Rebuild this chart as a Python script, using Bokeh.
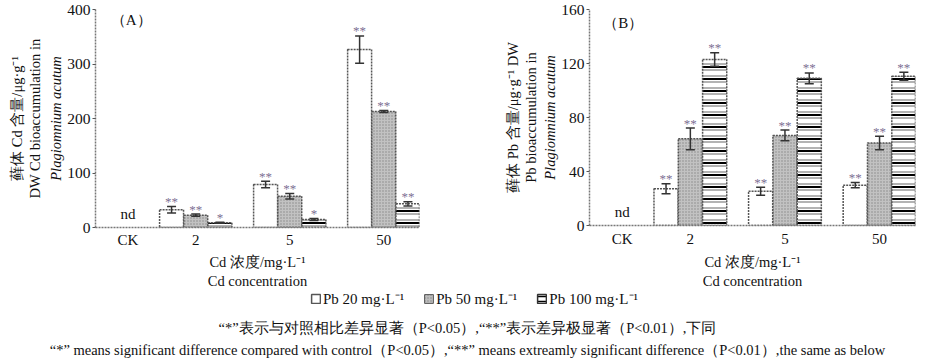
from bokeh.plotting import figure
from bokeh.models import (ColumnDataSource, FixedTicker, LinearAxis, Range1d, Whisker,
                          TeeHead, Label, Legend, LegendItem)
from bokeh.layouts import row, column
from bokeh.embed import file_html
from bokeh.resources import INLINE
from bokeh.core.properties import value

# ---------------- data ----------------
categories = ["CK", "2", "5", "50"]
cat_pos = [0.28, 1, 2, 3]
series = ["Pb 20 mg·L⁻¹", "Pb 50 mg·L⁻¹", "Pb 100 mg·L⁻¹"]

# Panel A: Cd bioaccumulation (groups 2, 5, 50)
cd_pb20 = [32.4, 78.9, 326.6]
cd_pb20_err = [6, 6, 25]
cd_pb50 = [22.6, 57.5, 212.8]
cd_pb50_err = [2, 5, 2]
cd_pb100 = [8.6, 14.7, 43.4]
cd_pb100_err = [1, 2, 4]
cd_sig20 = ["**", "**", "**"]
cd_sig50 = ["**", "**", "**"]
cd_sig100 = ["*", "*", "**"]
cd_ticks = [0, 100, 200, 300, 400]

# Panel B: Pb bioaccumulation
pb_pb20 = [27.2, 25.4, 29.9]
pb_pb20_err = [3.7, 3, 2]
pb_pb50 = [64.2, 66.7, 61.2]
pb_pb50_err = [8, 4, 5]
pb_pb100 = [123.0, 109.0, 110.6]
pb_pb100_err = [5, 4, 3]
pb_sig20 = ["**", "**", "**"]
pb_sig50 = ["**", "**", "**"]
pb_sig100 = ["**", "**", "**"]
pb_ticks = [0, 40, 80, 120, 160]

FONT = "Liberation Serif"
TXT = "#111111"
STAR = "#7d6f93"
EDGE = "#555555"
offsets = [-0.257, 0.0, 0.257]
BW = 0.255


def draw_bars(p, vals, errs, sigs, kind):
    xs = [cat_pos[i + 1] + offsets[kind] for i in range(len(vals))]
    src = ColumnDataSource(dict(x=xs, top=vals, upper=[v + e for v, e in zip(vals, errs)],
                                lower=[v - e for v, e in zip(vals, errs)], sig=sigs))
    if kind == 0:
        p.vbar(x="x", top="top", width=BW, source=src, fill_color="white",
               line_color=EDGE, line_width=1.5, line_dash="2 1")
    elif kind == 1:
        p.vbar(x="x", top="top", width=BW, source=src, fill_color="#c2c2c2",
               hatch_pattern="dot", hatch_color="#8a8a8a", hatch_scale=3, hatch_weight=1,
               line_color=EDGE, line_width=1.5, line_dash="2 1")
    else:
        p.vbar(x="x", top="top", width=BW, source=src, fill_color="white",
               hatch_pattern="horizontal_line", hatch_color="#9a9a9a", hatch_scale=6,
               hatch_weight=1.5, line_color=None)
        p.vbar(x="x", top="top", width=BW, source=src, fill_alpha=0,
               hatch_pattern="horizontal_line", hatch_color="black", hatch_scale=12,
               hatch_weight=2, line_color=EDGE, line_width=1.5, line_dash="2 1")
    w = Whisker(source=src, base="x", upper="upper", lower="lower", line_color="#333333",
                line_width=1.5, level="overlay",
                upper_head=TeeHead(size=9, line_color="#333333", line_width=1.5),
                lower_head=TeeHead(size=9, line_color="#333333", line_width=1.5))
    p.add_layout(w)
    p.text(x="x", y="upper", text="sig", source=src, text_align="center",
           text_baseline="middle", y_offset=-5, text_font_size="13px",
           text_color=STAR, text_font=value(FONT))


def make_panel(vals, errs, sigs, ymax, yticks, outer_label, tag, tag_xy,
               fw, fh, bl, br, bt, bb, x_std, xl_std, it_std, out_std):
    p = figure(frame_width=fw, frame_height=fh, x_range=Range1d(-0.066, 3.38),
               y_range=Range1d(0, ymax), output_backend="svg", toolbar_location=None,
               min_border_left=bl, min_border_right=br, min_border_top=bt,
               min_border_bottom=bb, outline_line_color=None)
    p.grid.visible = False
    for k in range(3):
        draw_bars(p, vals[k], errs[k], sigs[k], k)
    p.text(x=[cat_pos[0]], y=[0], text=["nd"], text_align="center", text_baseline="bottom",
           y_offset=-6, text_font_size="15px", text_color=TXT, text_font=value(FONT))
    p.add_layout(Label(x=tag_xy[0], y=tag_xy[1], text=tag, text_align="left",
                       text_baseline="middle", text_font=FONT, text_font_size="15px",
                       text_color=TXT))
    # x axis
    xa = p.xaxis[0]
    xa.ticker = FixedTicker(ticks=cat_pos)
    xa.major_label_overrides = {cat_pos[i]: categories[i] for i in range(4)}
    xa.major_tick_out = 0
    xa.major_tick_in = 0
    xa.minor_tick_out = 0
    xa.minor_tick_in = 0
    xa.axis_line_color = "#777777"
    xa.axis_line_width = 1.5
    xa.axis_line_dash = "2 1"
    xa.major_label_text_font = FONT
    xa.major_label_text_font_size = "15px"
    xa.major_label_text_color = TXT
    xa.major_label_standoff = x_std
    xa.axis_label = "Cd 浓度/mg·L⁻¹\nCd concentration"
    xa.axis_label_text_font = FONT
    xa.axis_label_text_font_size = "14.5px"
    xa.axis_label_text_font_style = "normal"
    xa.axis_label_text_color = TXT
    xa.axis_label_standoff = xl_std
    xa.axis_label_text_line_height = 1.22
    # y axis
    ya = p.yaxis[0]
    ya.ticker = FixedTicker(ticks=yticks)
    ya.major_tick_out = 3
    ya.major_tick_in = 0
    ya.minor_tick_out = 0
    ya.minor_tick_in = 0
    ya.major_tick_line_color = "#555555"
    ya.axis_line_color = "#777777"
    ya.axis_line_width = 1.5
    ya.axis_line_dash = "2 1"
    ya.major_label_text_font = FONT
    ya.major_label_text_font_size = "15.5px"
    ya.major_label_text_color = TXT
    ya.major_label_standoff = 2
    ya.axis_label = "Plagiomnium acutum"
    ya.axis_label_text_font = FONT
    ya.axis_label_text_font_size = "14.5px"
    ya.axis_label_text_font_style = "italic"
    ya.axis_label_text_color = TXT
    ya.axis_label_standoff = it_std
    outer = LinearAxis(ticker=FixedTicker(ticks=[]), axis_line_color=None,
                       major_tick_out=0, major_tick_in=0, minor_tick_out=0, minor_tick_in=0,
                       major_label_text_font_size="0px", major_label_standoff=0,
                       axis_label=outer_label, axis_label_text_font=FONT,
                       axis_label_text_font_size="14.5px", axis_label_text_font_style="normal",
                       axis_label_text_color=TXT, axis_label_standoff=out_std,
                       axis_label_text_line_height=1.12)
    p.add_layout(outer, "left")
    return p


pA = make_panel([cd_pb20, cd_pb50, cd_pb100], [cd_pb20_err, cd_pb50_err, cd_pb100_err],
                [cd_sig20, cd_sig50, cd_sig100], 400, cd_ticks,
                "藓体 Cd 含量/μg·g⁻¹\nDW Cd bioaccumulation in", "（A）", (0.096, 381),
                324, 218, 95, 10, 9, 63, 4, 3, 0, 3)
pB = make_panel([pb_pb20, pb_pb50, pb_pb100], [pb_pb20_err, pb_pb50_err, pb_pb100_err],
                [pb_sig20, pb_sig50, pb_sig100], 160, pb_ticks,
                "藓体 Pb 含量/μg·g⁻¹ DW\nPb bioaccumulation in", "（B）", (0.079, 150),
                326, 216, 160, 18, 7, 67, 5, 4, 0, 1)

# -------- legend + caption strip --------
H = 68
leg = figure(width=933, height=H, x_range=Range1d(0, 933), y_range=Range1d(0, H),
             min_border=0, toolbar_location=None, output_backend="svg",
             x_axis_location=None, y_axis_location=None, outline_line_color=None)
leg.grid.visible = False
dummy = dict(x=[-1000], top=[1])
g1 = leg.vbar(x="x", top="top", width=1, source=ColumnDataSource(dummy), fill_color="white",
              line_color=EDGE, line_width=1.5)
g2 = leg.vbar(x="x", top="top", width=1, source=ColumnDataSource(dummy), fill_color="#bdbdbd",
              hatch_pattern="dot", hatch_color="#8a8a8a", hatch_scale=3, hatch_weight=1,
              line_color=EDGE, line_width=1)
g3 = leg.vbar(x="x", top="top", width=1, source=ColumnDataSource(dummy), fill_color="white",
              hatch_pattern="horizontal_line", hatch_color="black", hatch_scale=5,
              hatch_weight=1.5, line_color="#333333", line_width=1.5)
legend = Legend(items=[LegendItem(label=series[0], renderers=[g1]),
                       LegendItem(label=series[1], renderers=[g2]),
                       LegendItem(label=series[2], renderers=[g3])],
                orientation="horizontal", location=(310, H - 16), glyph_width=11,
                glyph_height=11, label_standoff=2, spacing=19, padding=0, margin=0,
                border_line_color=None, background_fill_alpha=0, label_text_font=FONT,
                label_text_font_size="15px", label_height=14, label_text_color=TXT)
leg.add_layout(legend)
leg.add_layout(Label(x=467, y=H - 35, text="“*”表示与对照相比差异显著（P<0.05）,“**”表示差异极显著（P<0.01）,下同",
                     text_align="center", text_baseline="middle", text_font=FONT,
                     text_font_size="14.5px", text_color=TXT))
leg.add_layout(Label(x=467, y=H - 57, text="“*” means significant difference compared with control（P<0.05）,“**” means extreamly significant difference（P<0.01）,the same as below",
                     text_align="center", text_baseline="middle", text_font=FONT,
                     text_font_size="14.5px", text_color=TXT))

layout = column(row(pA, pB), leg)
open("out.html", "w").write(file_html(layout, INLINE))
